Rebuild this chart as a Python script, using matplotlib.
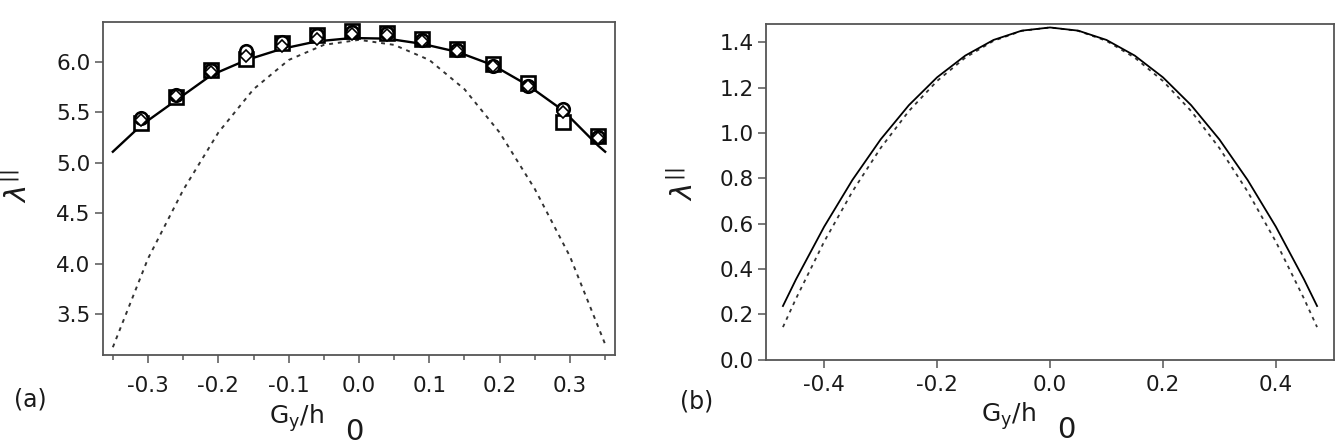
import numpy as np
import matplotlib
matplotlib.use('Agg')
import matplotlib.pyplot as plt
from matplotlib.ticker import MultipleLocator

plt.rcParams['font.family'] = ['DejaVu Sans']
plt.rcParams['mathtext.fontset'] = 'dejavusans'

# Panel (a): simulation points
x_pts = [-0.31, -0.26, -0.21, -0.16, -0.11, -0.06, -0.01, 0.04, 0.09, 0.14, 0.19, 0.24, 0.29, 0.34]
squares = [5.39, 5.65, 5.92, 6.03, 6.19, 6.27, 6.31, 6.29, 6.23, 6.13, 5.98, 5.79, 5.40, 5.27]
circles = [5.44, 5.67, 5.92, 6.11, 6.20, 6.27, 6.30, 6.29, 6.22, 6.12, 5.96, 5.76, 5.53, 5.26]
diamonds = [5.42, 5.66, 5.90, 6.06, 6.16, 6.23, 6.28, 6.27, 6.21, 6.11, 5.96, 5.76, 5.50, 5.25]

# Panel (a): theory curves
xa_solid = [-0.35, -0.31, -0.26, -0.21, -0.16, -0.11, -0.06, -0.01, 0.04, 0.09, 0.14, 0.19, 0.24, 0.29, 0.34, 0.35]
ya_solid = [5.11, 5.37, 5.62, 5.87, 6.02, 6.13, 6.205, 6.238, 6.232, 6.18, 6.10, 5.97, 5.77, 5.52, 5.17, 5.11]
xa_dot = [-0.35, -0.30, -0.25, -0.20, -0.15, -0.10, -0.05, 0.0, 0.05, 0.10, 0.15, 0.20, 0.25, 0.30, 0.35]
ya_dot = [3.17, 4.05, 4.73, 5.30, 5.73, 6.02, 6.17, 6.22, 6.17, 6.02, 5.73, 5.30, 4.74, 4.07, 3.20]

# Panel (b): theory curves
xb = [-0.473, -0.45, -0.40, -0.35, -0.30, -0.25, -0.20, -0.15, -0.10, -0.05, 0.0,
      0.05, 0.10, 0.15, 0.20, 0.25, 0.30, 0.35, 0.40, 0.45, 0.473]
yb_solid = [0.236, 0.353, 0.586, 0.792, 0.971, 1.122, 1.245, 1.341, 1.410, 1.451, 1.465,
            1.451, 1.410, 1.341, 1.245, 1.122, 0.971, 0.792, 0.586, 0.353, 0.236]
yb_dot = [0.143, 0.268, 0.520, 0.741, 0.933, 1.096, 1.229, 1.332, 1.406, 1.450, 1.465,
          1.450, 1.406, 1.332, 1.229, 1.096, 0.933, 0.741, 0.520, 0.268, 0.143]

W, H = 1339, 445
fig = plt.figure(figsize=(W / 100, H / 100), dpi=100)

frame = '#555555'
ink = '#1a1a1a'
fs = 15.5

def style(ax):
    for s in ax.spines.values():
        s.set_color(frame)
        s.set_linewidth(1.3)
    ax.tick_params(which='both', direction='out', color=frame, width=1.1,
                   labelsize=fs, labelcolor=ink)
    ax.tick_params(axis='y', which='major', length=6, pad=3)

# ---- panel (a)
ax1 = fig.add_axes([103 / W, 1 - 355 / H, 512 / W, 333 / H])
ax1.plot(xa_dot, ya_dot, color='#333333', lw=1.4, ls=(0, (2, 2.5)))
ax1.plot(xa_solid, ya_solid, color='black', lw=1.7)
ax1.plot(x_pts, squares, ls='none', marker='s', ms=10, mfc='white', mec='black', mew=1.9)
ax1.plot(x_pts, circles, ls='none', marker='o', ms=9, mfc='white', mec='black', mew=1.9)
ax1.plot(x_pts, diamonds, ls='none', marker='D', ms=6.5, mfc='white', mec='black', mew=1.2)
ax1.set_xlim(-0.364, 0.364)
ax1.set_ylim(3.093, 6.397)
ax1.xaxis.set_minor_locator(MultipleLocator(0.05))
ax1.set_xticks([-0.3, -0.2, -0.1, 0.0, 0.1, 0.2, 0.3])
ax1.set_xticklabels(['-0.3', '-0.2', '-0.1', '0.0', '0.1', '0.2', '0.3'])
ax1.set_yticks([3.5, 4.0, 4.5, 5.0, 5.5, 6.0])
ax1.set_yticklabels(['3.5', '4.0', '4.5', '5.0', '5.5', '6.0'])
style(ax1)
ax1.tick_params(axis='x', which='major', length=6, pad=9)
ax1.tick_params(axis='x', which='minor', length=3.5)

# ---- panel (b)
ax2 = fig.add_axes([766 / W, 1 - 359.5 / H, 568 / W, 335.2 / H])
ax2.plot(xb, yb_dot, color='#333333', lw=1.3, ls=(0, (2, 2.5)))
ax2.plot(xb, yb_solid, color='black', lw=1.3)
ax2.set_xlim(-0.503, 0.503)
ax2.set_ylim(0.0, 1.479)
ax2.set_xticks([-0.4, -0.2, 0.0, 0.2, 0.4])
ax2.set_xticklabels(['-0.4', '-0.2', '0.0', '0.2', '0.4'])
ax2.set_yticks([0.0, 0.2, 0.4, 0.6, 0.8, 1.0, 1.2, 1.4])
ax2.set_yticklabels(['0.0', '0.2', '0.4', '0.6', '0.8', '1.0', '1.2', '1.4'])
style(ax2)
ax2.tick_params(axis='x', which='major', length=6, pad=5)

# labels placed in pixel coordinates of the figure
def ftext(x, y, s, **kw):
    fig.text(x / W, 1 - y / H, s, color=ink, ha='center', va='center', **kw)

ftext(18, 186, r'$\lambda^{||}$', rotation=90, fontsize=21)
ftext(684, 184, r'$\lambda^{||}$', rotation=90, fontsize=21)
ftext(296, 418, r'G$_{\mathregular{y}}$/h', fontsize=18)
ftext(354, 432, '0', fontsize=21)
ftext(1008, 416, r'G$_{\mathregular{y}}$/h', fontsize=18)
ftext(1066, 430, '0', fontsize=21)
ftext(30, 400, '(a)', fontsize=17)
ftext(697, 402, '(b)', fontsize=17)

fig.savefig('out.png', dpi=100)
